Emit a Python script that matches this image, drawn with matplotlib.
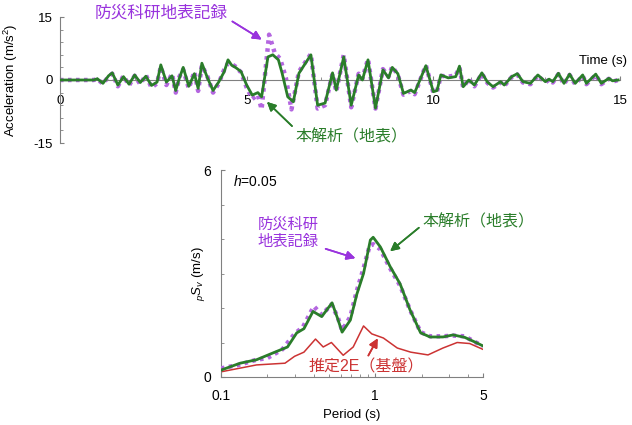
import numpy as np
import matplotlib
matplotlib.use('Agg')
import matplotlib.pyplot as plt
from matplotlib.ticker import MultipleLocator, FixedLocator, NullFormatter

plt.rcParams['font.family'] = ['Liberation Sans', 'Noto Sans CJK JP', 'DejaVu Sans']
plt.rcParams['mathtext.fontset'] = 'custom'
plt.rcParams['mathtext.rm'] = 'Liberation Sans'
plt.rcParams['mathtext.it'] = 'Liberation Sans:italic'
plt.rcParams['axes.unicode_minus'] = False

# %% Data

# Acceleration time history, this analysis (surface)
calc_t = [0, 0.9, 1.0, 1.15, 1.3, 1.4, 1.55, 1.7, 1.85, 2.0, 2.15, 2.3, 2.45, 2.6, 2.7, 2.85,
          3.0, 3.1, 3.2, 3.3, 3.45, 3.6, 3.7, 3.8, 3.95, 4.1, 4.25, 4.4, 4.5, 4.6, 4.7, 4.85,
          5.0, 5.15, 5.3, 5.4, 5.57, 5.7, 5.85, 5.95, 6.1, 6.25, 6.4, 6.72, 6.9, 7.1, 7.3, 7.4,
          7.6, 7.8, 8.0, 8.1, 8.25, 8.45, 8.65, 8.8, 8.9, 9.05, 9.2, 9.4, 9.5, 9.8, 10.0, 10.1,
          10.2, 10.4, 10.6, 10.7, 10.8, 10.95, 11.1, 11.3, 11.45, 11.6, 11.8, 11.9, 12.1, 12.25,
          12.4, 12.6, 12.8, 13.0, 13.1, 13.2, 13.35, 13.5, 13.65, 13.8, 14.0, 14.1, 14.35, 14.5,
          14.7, 14.8, 14.95]
calc_acc = [0, 0, 0.3, -0.8, 1.0, 1.7, -1.2, 0.8, -1.0, 1.2, -0.6, 0.9, -1.3, -0.5, 3.6, -0.5,
            1.0, -2.5, 0.5, 3.0, -1.5, 1.5, -2.0, 4.0, 0.5, -2.5, -0.5, 2.0, 4.8, 3.5, 3.0, 2.0,
            -1.2, -3.6, -3.0, -4.0, 5.5, 6.0, 4.8, 1.6, -4.0, -5.2, 1.6, 6.0, -6.0, -5.5, 1.7, -2.4,
            5.5, -6.0, 1.2, 0.0, 4.8, -6.7, 2.4, 0.5, 3.0, 1.5, -3.2, -2.4, -3.0, 3.4, -2.8, -2.5,
            1.2, 0.5, 0.8, 3.3, -1.6, 0.0, -1.2, 1.7, -0.5, -1.6, -0.4, -1.2, 0.8, 1.5,
            -0.4, -0.8, 1.2, -0.4, 0.2, -0.4, 1.6, -0.8, 1.4, -0.8, 1.2, -0.8, 1.4, -0.8,
            0.4, -0.2, 0.0]

# Acceleration time history, NIED surface record
rec_t = [0, 0.9, 1.0, 1.15, 1.3, 1.4, 1.55, 1.7, 1.85, 2.0, 2.15, 2.3, 2.45, 2.6, 2.7, 2.85,
         3.0, 3.1, 3.2, 3.3, 3.45, 3.6, 3.7, 3.8, 3.95, 4.1, 4.25, 4.4, 4.5, 4.6, 4.7, 4.85,
         5.0, 5.15, 5.3, 5.4, 5.5, 5.6, 5.75, 5.9, 6.05, 6.2, 6.4, 6.72, 6.9, 7.1, 7.3, 7.4,
         7.6, 7.8, 8.0, 8.1, 8.25, 8.45, 8.65, 8.8, 8.9, 9.05, 9.2, 9.4, 9.5, 9.8, 10.0, 10.1,
         10.2, 10.4, 10.6, 10.7, 10.8, 10.95, 11.1, 11.3, 11.45, 11.6, 11.8, 11.9, 12.1, 12.25,
         12.4, 12.6, 12.8, 13.0, 13.1, 13.2, 13.35, 13.5, 13.65, 13.8, 14.0, 14.1, 14.35, 14.5,
         14.7, 14.8, 14.95]
rec_acc = [0, 0, 0.2, -0.9, 0.8, 1.5, -1.5, 1.0, -1.3, 1.0, -1.0, 1.2, -1.8, -0.8, 3.2, -1.2,
           1.5, -3.0, 0.8, 2.5, -2.0, 2.0, -2.6, 3.5, 0.8, -3.0, -0.8, 2.5, 4.0, 3.8, 3.2, 1.8,
           -1.8, -4.5, -3.5, -7.0, 2.0, 10.8, 6.5, 5.0, 0.5, -7.0, 2.0, 6.2, -6.8, -6.0, 1.5, -2.8,
           6.0, -6.5, 1.5, 0.3, 5.0, -6.8, 2.6, 0.8, 3.2, 1.2, -3.5, -2.6, -3.4, 3.5, -3.0, -2.7,
           1.0, 0.8, 1.1, 3.0, -1.8, 0.3, -1.5, 1.5, -0.7, -1.8, -0.6, -1.4, 0.7, 1.3,
           -0.6, -1.0, 1.0, -0.6, 0.1, -0.6, 1.4, -1.0, 1.2, -1.0, 1.0, -1.0, 1.2, -1.0,
           0.3, -0.4, 0.0]

# Pseudo velocity response spectra (h=0.05)
calc_T = [0.1, 0.133, 0.17, 0.218, 0.27, 0.31, 0.345, 0.395, 0.45, 0.525, 0.57, 0.61, 0.69,
          0.76, 0.84, 0.93, 0.97, 1.08, 1.25, 1.45, 1.68, 1.97, 2.27, 2.75, 3.2, 3.8, 4.5, 5.0]
calc_sv = [0.2, 0.4, 0.5, 0.7, 0.87, 1.28, 1.4, 1.9, 1.75, 2.15, 1.7, 1.3, 1.65,
           2.4, 3.0, 3.97, 4.05, 3.77, 3.2, 2.7, 1.95, 1.28, 1.16, 1.16, 1.22, 1.15, 1.0, 0.9]

rec_T = [0.1, 0.13, 0.17, 0.2, 0.25, 0.3, 0.34, 0.4, 0.45, 0.52, 0.57, 0.61, 0.69,
         0.76, 0.84, 0.92, 0.97, 1.08, 1.25, 1.45, 1.68, 1.97, 2.27, 2.75, 3.2, 3.8, 4.5, 5.0]
rec_sv = [0.25, 0.35, 0.5, 0.55, 0.8, 1.25, 1.45, 2.05, 1.8, 2.1, 1.75, 1.35, 1.75,
          2.5, 3.15, 3.8, 3.85, 3.7, 3.15, 2.65, 1.95, 1.3, 1.18, 1.18, 1.2, 1.18, 1.0, 0.9]

base_T = [0.1, 0.17, 0.26, 0.3, 0.345, 0.41, 0.46, 0.52, 0.62, 0.72, 0.84, 0.95, 1.13,
          1.39, 1.7, 2.2, 2.75, 3.4, 4.1, 5.0]
base_sv = [0.15, 0.35, 0.4, 0.6, 0.72, 1.1, 0.87, 1.0, 0.63, 0.87, 1.48, 1.25, 1.13,
           0.84, 0.72, 0.64, 0.84, 1.0, 0.97, 0.8]

# %% Styles

green = '#2a7d2a'
purple_line = '#b466e0'
purple_text = '#9933dd'
red = '#cc3333'
grey = '#808080'
W, H = 632, 425


def fpx(x, y):
    # pixel position (from top-left) to figure fraction
    return (x / W, 1 - y / H)


fig = plt.figure(figsize=(6.32, 4.25), dpi=100)
fig.set_facecolor('white')

# %% Top: acceleration time history

ax1 = fig.add_axes([60 / W, 1 - 143 / H, 560 / W, 126 / H])
ax1.plot(rec_t, rec_acc, color=purple_line, lw=3.2, ls=(0, (0.8, 1.0)), zorder=2)
ax1.plot(calc_t, calc_acc, color=green, lw=2.0, solid_joinstyle='round', zorder=3)
ax1.set_xlim(0, 15)
ax1.set_ylim(-15, 15)
for s in ['top', 'right']:
    ax1.spines[s].set_visible(False)
ax1.spines['bottom'].set_position(('data', 0))
for s in ['left', 'bottom']:
    ax1.spines[s].set_color(grey)
    ax1.spines[s].set_linewidth(0.8)
ax1.set_xticks([0, 5, 10, 15])
ax1.xaxis.set_minor_locator(MultipleLocator(1))
ax1.set_yticks([-15, 0, 15])
ax1.yaxis.set_minor_locator(MultipleLocator(3))
ax1.tick_params(axis='both', which='both', direction='in', color=grey, labelsize=9.5)
ax1.tick_params(axis='both', which='major', length=3)
ax1.tick_params(axis='both', which='minor', length=2)
ax1.tick_params(axis='x', pad=11)
ax1.tick_params(axis='y', pad=5)
ax1.set_ylabel('Acceleration (m/s$^2$)', fontsize=9.5)
ax1.yaxis.set_label_coords(-0.072, 0.5)
ax1.text(15.2, 3.2, 'Time (s)', fontsize=9.5, ha='right', va='bottom', clip_on=False)

# Annotations top
fig.text(*fpx(161, 13), '防災科研地表記録', color=purple_text, fontsize=12, ha='center', va='center')
fig.add_artist(plt.annotate('', xy=fpx(264, 41), xytext=fpx(230, 20), xycoords='figure fraction',
                            arrowprops=dict(arrowstyle='-|>', color=purple_text, lw=1.2, mutation_scale=13)))
fig.text(*fpx(351, 137), '本解析（地表）', color=green, fontsize=11.5, ha='center', va='center')
fig.add_artist(plt.annotate('', xy=fpx(265, 100), xytext=fpx(294, 128), xycoords='figure fraction',
                            arrowprops=dict(arrowstyle='-|>', color=green, lw=1.2, mutation_scale=13)))

# %% Bottom: response spectra

ax2 = fig.add_axes([221 / W, 1 - 377 / H, 262 / W, 207 / H])
ax2.plot(base_T, base_sv, color=red, lw=1.1, zorder=2)
ax2.plot(rec_T, rec_sv, color=purple_line, lw=3.2, ls=(0, (0.8, 1.0)), zorder=3)
ax2.plot(calc_T, calc_sv, color=green, lw=2.0, solid_joinstyle='round', zorder=4)
ax2.set_xscale('log')
ax2.set_xlim(0.1, 5)
ax2.set_ylim(0, 6)
for s in ['top', 'right']:
    ax2.spines[s].set_visible(False)
for s in ['left', 'bottom']:
    ax2.spines[s].set_color(grey)
    ax2.spines[s].set_linewidth(0.8)
ax2.xaxis.set_major_locator(FixedLocator([0.1, 1, 5]))
ax2.set_xticklabels(['0.1', '1', '5'])
ax2.xaxis.set_minor_locator(FixedLocator([0.2, 0.3, 0.4, 0.5, 0.6, 0.7, 0.8, 0.9, 2, 3, 4]))
ax2.xaxis.set_minor_formatter(NullFormatter())
ax2.set_yticks([0, 6])
ax2.yaxis.set_minor_locator(MultipleLocator(1))
ax2.tick_params(axis='both', which='both', direction='in', color=grey, labelsize=10)
ax2.tick_params(axis='both', which='major', length=3)
ax2.tick_params(axis='both', which='minor', length=2)
ax2.tick_params(axis='x', pad=9)
ax2.tick_params(axis='y', pad=7)
ax2.set_xlabel('Period (s)', fontsize=9.5, labelpad=4)
ax2.set_ylabel(r'$_{p}S_{v}$ (m/s)', fontsize=9.5)
ax2.yaxis.set_label_coords(-0.055, 0.5)
fig.text(*fpx(233, 182), r'$h$=0.05', fontsize=10, ha='left', va='center')

# Annotations bottom
fig.text(*fpx(288, 233), '防災科研\n地表記録', color=purple_text, fontsize=11, ha='center',
         va='center', linespacing=1.25)
fig.add_artist(plt.annotate('', xy=fpx(358, 259), xytext=fpx(323, 248), xycoords='figure fraction',
                            arrowprops=dict(arrowstyle='-|>', color=purple_text, lw=1.2, mutation_scale=13)))
fig.text(*fpx(478, 222), '本解析（地表）', color=green, fontsize=11.5, ha='center', va='center')
fig.add_artist(plt.annotate('', xy=fpx(388, 253), xytext=fpx(421, 226), xycoords='figure fraction',
                            arrowprops=dict(arrowstyle='-|>', color=green, lw=1.2, mutation_scale=13)))
fig.text(*fpx(366, 367), '推定2E（基盤）', color=red, fontsize=11.5, ha='center', va='center')
fig.add_artist(plt.annotate('', xy=fpx(379, 336), xytext=fpx(367, 358), xycoords='figure fraction',
                            arrowprops=dict(arrowstyle='-|>', color=red, lw=1.2, mutation_scale=13)))

fig.savefig('out.png', dpi=100)
